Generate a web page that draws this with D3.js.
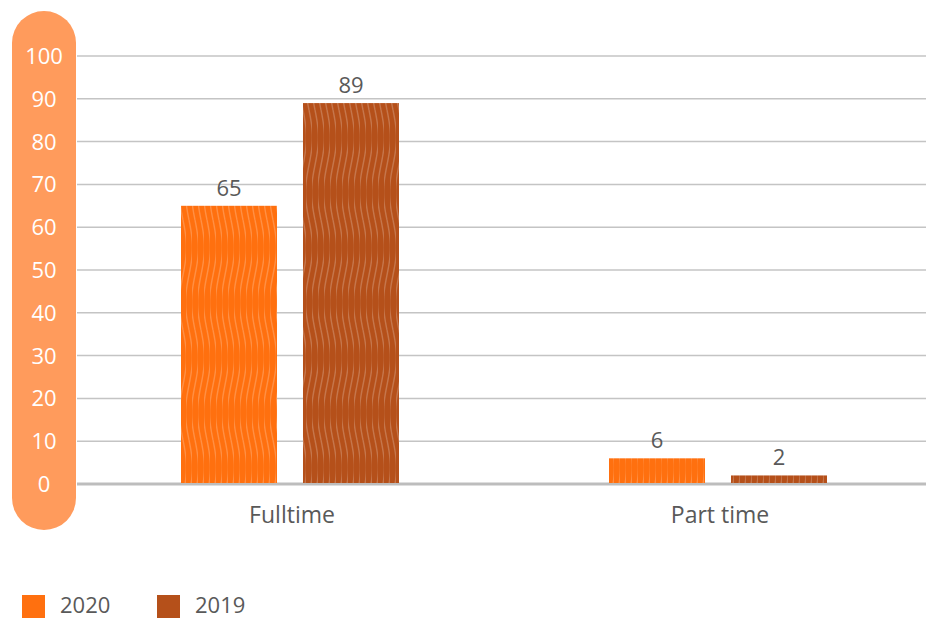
<!DOCTYPE html>
<html>
<head>
<meta charset="utf-8">
<script src="https://cdn.jsdelivr.net/npm/d3@7"></script>
<style>
  body { margin: 0; background: #fff; }
  text { font-family: "Open Sans", sans-serif; }
</style>
</head>
<body>
<svg id="chart" width="926" height="619"></svg>
<script>
// --- data ---
const categories = ["Fulltime", "Part time"];
const series = ["2020", "2019"];
const values2020 = [65, 6];
const values2019 = [89, 2];
const yTicks = [0, 10, 20, 30, 40, 50, 60, 70, 80, 90, 100];
const colors = {"2020": "#FF700F", "2019": "#B5501A"};

var margin = {top: 56, left: 78, bottom: 135};
const W = 926, H = 619;

const svg = d3.select("#chart");

// wavy texture for the bars
const defs = svg.append("defs");
series.forEach(s => {
  const p = defs.append("pattern")
    .attr("id", "wave" + s)
    .attr("patternUnits", "userSpaceOnUse")
    .attr("width", 6)
    .attr("height", 110);
  p.append("rect").attr("width", 6).attr("height", 110).attr("fill", colors[s]);
  const line = d3.line().curve(d3.curveBasis);
  const pts = d3.range(0, 111, 5.5).map(y => [3 + 3.5 * Math.sin(y / 110 * 2 * Math.PI), y]);
  p.append("path")
    .attr("d", line(pts))
    .attr("fill", "none")
    .attr("stroke", "rgba(255,255,255,0.22)")
    .attr("stroke-width", 1.4);
});

// scales
const y = d3.scaleLinear().domain([0, 100]).range([484, margin.top]);
const x0 = d3.scaleBand().domain(categories).range([margin.left, 934]);
const x1 = d3.scaleBand().domain(series).range([103, 321]).paddingInner(0.213);

// rounded pill behind the y axis labels
svg.append("rect")
  .attr("x", 12).attr("y", 11)
  .attr("width", 64).attr("height", 519)
  .attr("rx", 32).attr("ry", 32)
  .attr("fill", "#FF9B5C");

// gridlines
svg.append("g").selectAll("line")
  .data(yTicks)
  .join("line")
  .attr("x1", 77).attr("x2", W)
  .attr("y1", d => y(d)).attr("y2", d => y(d))
  .attr("stroke", d => d === 0 ? "#BDBDBD" : "#C4C4C4")
  .attr("stroke-width", d => d === 0 ? 3 : 1.5);

// y labels
svg.append("g").selectAll("text")
  .data(yTicks)
  .join("text")
  .attr("x", 44).attr("y", d => y(d))
  .attr("dy", "0.36em")
  .attr("text-anchor", "middle")
  .attr("fill", "#fff")
  .style("font-size", "22px")
  .text(d => d);

// bars
const rows = categories.map((c, i) => ({cat: c, vals: [
  {s: "2020", v: values2020[i]}, {s: "2019", v: values2019[i]}
]}));

const groups = svg.append("g").selectAll("g")
  .data(rows)
  .join("g")
  .attr("transform", d => "translate(" + x0(d.cat) + ",0)");

groups.selectAll("rect")
  .data(d => d.vals)
  .join("rect")
  .attr("x", d => x1(d.s))
  .attr("width", x1.bandwidth())
  .attr("y", d => y(d.v))
  .attr("height", d => y(0) - y(d.v) - 1)
  .attr("fill", d => "url(#wave" + d.s + ")");

groups.selectAll("text.val")
  .data(d => d.vals)
  .join("text")
  .attr("class", "val")
  .attr("x", d => x1(d.s) + x1.bandwidth() / 2)
  .attr("y", d => y(d.v) - 10)
  .attr("text-anchor", "middle")
  .attr("fill", "#595959")
  .style("font-size", "22px")
  .text(d => d.v);

// category labels
svg.append("g").selectAll("text")
  .data(categories)
  .join("text")
  .attr("x", d => x0(d) + 214)
  .attr("y", 523)
  .attr("text-anchor", "middle")
  .attr("fill", "#595959")
  .style("font-size", "23px")
  .text(d => d);

// legend
const legend = svg.append("g").selectAll("g")
  .data(series)
  .join("g")
  .attr("transform", (d, i) => "translate(" + (22 + i * 135) + ",595)");
legend.append("rect")
  .attr("width", 23).attr("height", 23)
  .attr("fill", d => colors[d]);
legend.append("text")
  .attr("x", 38).attr("y", 18)
  .attr("fill", "#595959")
  .style("font-size", "22px")
  .text(d => d);
</script>
</body>
</html>
